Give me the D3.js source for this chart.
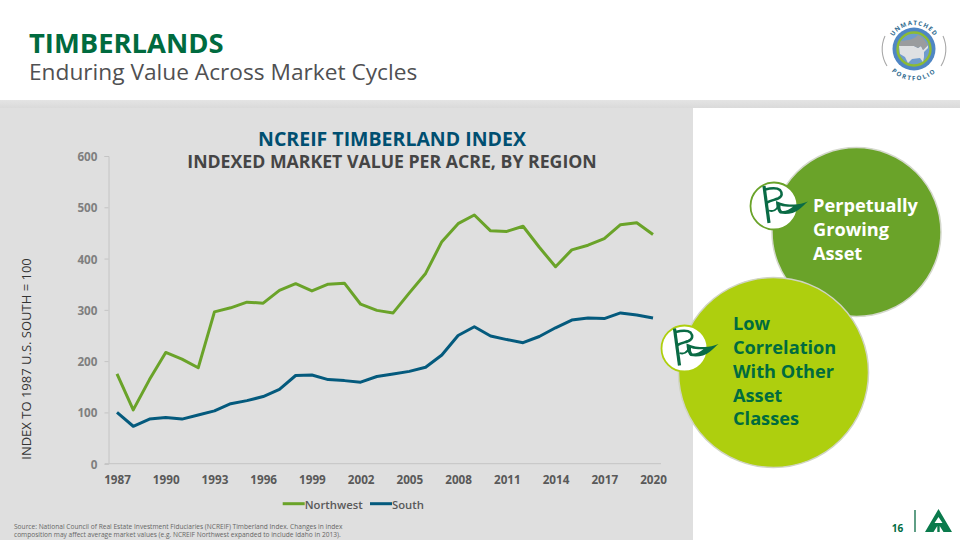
<!DOCTYPE html>
<html><head><meta charset="utf-8">
<script src="https://cdnjs.cloudflare.com/ajax/libs/d3/7.8.5/d3.min.js"></script>
<style>html,body{margin:0;padding:0;background:#fff}svg{display:block}text{font-family:"Open Sans",sans-serif}</style>
</head><body><svg id="c" width="960" height="540"></svg>
<script>
const years = d3.range(1987, 2021);
const northwest = [175,105,164,217,204,187,296,304,315,313,338,351,337,350,352,311,299,294,333,371,433,468,485,454,453,463,422,384,417,426,439,466,470,447];
const south = [100,73,87,90,87,95,103,117,123,131,145,172,173,164,162,159,170,175,180,188,212,250,267,249,242,236,248,265,280,284,283,294,290,284];
const yTicks = [0,100,200,300,400,500,600];
const xTickYears = d3.range(1987, 2021, 3);
const seriesNames = ["Northwest","South"];
const seriesColors = ["#6aa329","#045a7d"];
const svg = d3.select("#c");
const defs = svg.append("defs");
const grad = defs.append("linearGradient").attr("id","band").attr("x1",0).attr("x2",0).attr("y1",0).attr("y2",1);
grad.append("stop").attr("offset",0).attr("stop-color","#e4e4e4");
grad.append("stop").attr("offset",1).attr("stop-color","#dadada");

svg.append("rect").attr("x",0).attr("y",108).attr("width",693).attr("height",432).attr("fill","#dfdfdf");
svg.append("rect").attr("x",0).attr("y",100).attr("width",960).attr("height",8).attr("fill","url(#band)");

svg.append("text").attr("x",29).attr("y",52.5).attr("font-size",27.4).attr("font-weight",700).attr("fill","#006b3f").text("TIMBERLANDS");
svg.append("text").attr("x",29).attr("y",80).attr("font-size",22.7).attr("fill","#505052").text("Enduring Value Across Market Cycles");

const x = d3.scaleLinear().domain([1987,2020]).range([117,653]);
const y = d3.scaleLinear().domain([0,600]).range([463.7,156]);

const g = svg.append("g");
const yAxis = g.append("g").attr("transform","translate(108.5,0)").call(d3.axisLeft(y).tickValues(yTicks).tickSize(4).tickPadding(7));
const xAxis = g.append("g").attr("transform","translate(0,463.7)").call(d3.axisBottom(x).tickValues(xTickYears).tickFormat(d3.format("d")).tickSize(0).tickPadding(12));
yAxis.selectAll("path,line").attr("stroke","#c4c4c4").attr("stroke-width",1);
xAxis.select("path").attr("stroke","#c4c4c4").attr("d","M105,0H661");
g.selectAll(".tick text").attr("font-family",'"Open Sans",sans-serif').attr("font-size",11.7).attr("font-weight",700);
yAxis.selectAll(".tick text").attr("fill","#7f7f7f").attr("y",0.8);
xAxis.selectAll(".tick text").attr("fill","#595959");

const line = d3.line().x((d,i)=>x(years[i])).y(d=>y(d));
[northwest,south].forEach((s,i)=>{
  g.append("path").attr("d",line(s)).attr("fill","none").attr("stroke",seriesColors[i]).attr("stroke-width",3).attr("stroke-linejoin","round");
});

svg.append("text").attr("x",392).attr("y",146).attr("text-anchor","middle").attr("font-size",19.5).attr("font-weight",700).attr("fill","#004f71").text("NCREIF TIMBERLAND INDEX");
svg.append("text").attr("x",392).attr("y",168).attr("text-anchor","middle").attr("font-size",17.7).attr("font-weight",700).attr("fill","#454545").text("INDEXED MARKET VALUE PER ACRE, BY REGION");
svg.append("text").attr("transform","translate(31,359) rotate(-90)").attr("text-anchor","middle").attr("font-size",13).attr("font-weight",400).attr("fill","#333").text("INDEX TO 1987 U.S. SOUTH = 100");

// legend
const lg = [[282.7,304.7],[370,392]];
seriesNames.forEach((n,i)=>{
  svg.append("line").attr("x1",lg[i][0]).attr("x2",lg[i][1]).attr("y1",503.7).attr("y2",503.7).attr("stroke",seriesColors[i]).attr("stroke-width",3);
  svg.append("text").attr("x",lg[i][1]).attr("y",508.5).attr("font-size",11.3).attr("font-weight",600).attr("fill","#595959").text(n);
});

// footnote
svg.append("text").attr("x",14).attr("y",528.5).attr("font-size",6.6).attr("fill","#666").text("Source: National Council of Real Estate Investment Fiduciaries (NCREIF) Timberland Index. Changes in index");
svg.append("text").attr("x",14).attr("y",536.7).attr("font-size",6.6).attr("fill","#666").text("composition may affect average market values (e.g. NCREIF Northwest expanded to include Idaho in 2013).");

// circles
svg.append("circle").attr("cx",856.5).attr("cy",232).attr("r",84.5).attr("fill","#6aa329").attr("stroke","#d4d8cc").attr("stroke-width",1.5);
svg.append("circle").attr("cx",773.5).attr("cy",372.5).attr("r",95).attr("fill","#aecf0e").attr("stroke","#d0d4c4").attr("stroke-width",1.5);

function flag(cx,cy,r,ring){
  const c = "#0a6b45";
  const f = svg.append("g").attr("transform",`translate(${cx},${cy})`);
  f.append("circle").attr("r",r).attr("fill","#fff").attr("stroke",ring).attr("stroke-width",1.8);
  f.append("path").attr("d","M-10,-20 L-5,17").attr("stroke",c).attr("stroke-width",3.2).attr("fill","none");
  f.append("path").attr("d","M-9,-16.5 C-3,-18 3,-18.5 6,-16 C8.5,-13 8.5,-9.5 4,-7.5 C0,-6 -3,-5.5 -7,-3.5").attr("stroke",c).attr("stroke-width",2.6).attr("fill","none");
  f.append("path").attr("d","M2,-5 C2,-1 3,5 6,7.5 C12,8.5 20,8 25,3.5 C29,0 31,-2 34,-4.5 C29,-2.5 25,-1.5 20,-1.5 C14,-1.5 8,-2 2,-5 Z M6.5,-0.5 C10,0.8 15,1 19,0.8 C15,4 11,5.5 8,5 C6.5,3.5 6.3,1.5 6.5,-0.5 Z").attr("fill",c).attr("fill-rule","evenodd");
  f.append("path").attr("d","M-5,4.5 C-1,6 3,4 4,0").attr("stroke",c).attr("stroke-width",1.8).attr("fill","none");
}
flag(774,206,23.5,"#6aa329");
flag(684.5,348.5,23,"#aecf0e");

[["Perpetually",212],["Growing",236],["Asset",260]].forEach(d=>svg.append("text").attr("x",813).attr("y",d[1]).attr("font-size",18.2).attr("font-weight",700).attr("fill","#fff").text(d[0]));
[["Low",330],["Correlation",353.5],["With Other",377.5],["Asset",401.5],["Classes",425]].forEach(d=>svg.append("text").attr("x",733).attr("y",d[1]).attr("font-size",18.2).attr("font-weight",700).attr("fill","#006b3f").text(d[0]));

// page no + logo
svg.append("text").attr("x",897.5).attr("y",531.7).attr("text-anchor","middle").attr("font-size",10).attr("font-weight",700).attr("fill","#006b3f").text("16");
svg.append("line").attr("x1",915).attr("x2",915).attr("y1",510).attr("y2",532).attr("stroke","#0a6b45").attr("stroke-width",1.3);
svg.append("path").attr("d","M938.5,509 L952,532 H943.5 L939.7,526 V532 H937.3 V526 L933.5,532 H925 Z M938.5,517 L934.5,523 H942.5 Z").attr("fill","#0a7a4c").attr("fill-rule","evenodd");

// badge
const b = svg.append("g").attr("transform","translate(914,49)");
defs.append("path").attr("id","arcT").attr("d","M-24,0 A24,24 0 0 1 24,0");
defs.append("path").attr("id","arcB").attr("d","M-31.5,0 A31.5,31.5 0 0 0 31.5,0");
b.append("circle").attr("r",21.5).attr("fill","#4f86c4");
b.append("circle").attr("r",16.5).attr("fill","#6f9ccd").attr("stroke","#8dbb34").attr("stroke-width",2.4);
b.append("path").attr("d","M-15,-3 L0,-3 L4,-1 L7,-3 L9,1 L14,-4 L14,-1 L10,3 L10,8 L9,13 L6,9 L-2,10 L-6,14 L-9,8 L-14,5 Z").attr("fill","#dfe1e3");
b.append("path").attr("d","M-15,-3 L-13,-8 C-6,-9 -1,-9 4,-14 L9,-11 L14,-4 L9,1 L7,-3 L4,-1 L0,-3 Z").attr("fill","#9a9c9e");
b.append("path").attr("d","M-29,-13 A31.8,31.8 0 0 0 -27,17").attr("fill","none").attr("stroke","#a8a8a8").attr("stroke-width",1.1);
b.append("path").attr("d","M29,-13 A31.8,31.8 0 0 1 27,17").attr("fill","none").attr("stroke","#a8a8a8").attr("stroke-width",1.1);
b.append("text").attr("font-size",6.2).attr("font-weight",700).attr("letter-spacing",1).attr("fill","#2f6b8f").append("textPath").attr("href","#arcT").attr("startOffset","50%").attr("text-anchor","middle").text("UNMATCHED");
b.append("text").attr("font-size",6.2).attr("font-weight",700).attr("letter-spacing",1.6).attr("fill","#2f6b8f").append("textPath").attr("href","#arcB").attr("startOffset","50%").attr("text-anchor","middle").text("PORTFOLIO");
</script></body></html>
